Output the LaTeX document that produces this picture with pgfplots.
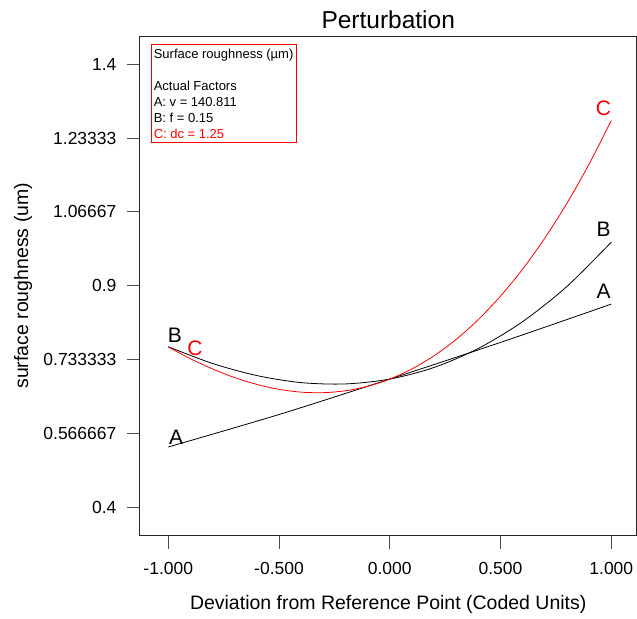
\documentclass[border=0pt]{standalone}
\usepackage{pgfplots}
\pgfplotsset{compat=1.18}
\usepackage{fontspec}
\setmainfont{Liberation Sans}
\begin{document}
\begin{tikzpicture}
\begin{axis}[
  scale only axis,
  width=497pt, height=500pt,
  xmin=-1.128, xmax=1.114,
  ymin=0.3362, ymax=1.4638,
  axis line style={line width=0.9pt, black!85},
  tick align=outside,
  xtick pos=bottom, ytick pos=left,
  major tick length=13pt,
  tick style={line width=0.9pt, black!70},
  xtick={-1,-0.5,0,0.5,1},
  xticklabels={-1.000,-0.500,0.000,0.500,1.000},
  ytick={0.4,0.566667,0.733333,0.9,1.066667,1.233333,1.4},
  yticklabels={0.4,0.566667,0.733333,0.9,1.06667,1.23333,1.4},
  /pgf/number format/assume math mode=true,
  ticklabel style={font=\fontsize{17.5}{20}\selectfont},
  yticklabel style={xshift=-7pt},
  xticklabel style={yshift=-10pt},
  xlabel={Deviation from Reference Point (Coded Units)},
  ylabel={surface roughness (um)},
  every axis x label/.style={at={(axis description cs:0.5,-0.138)}, anchor=center,
     font=\fontsize{19.5}{22}\selectfont},
  every axis y label/.style={at={(axis description cs:-0.2354,0.5)}, anchor=center, rotate=90,
     font=\fontsize{19.5}{22}\selectfont},
  title={Perturbation},
  every axis title/.style={at={(axis description cs:0.5,1.032)}, anchor=center,
     font=\fontsize{24.5}{27}\selectfont},
  clip=false,
]
\addplot[black, line width=0.8pt, smooth] coordinates {
  (-1,0.5362) (-0.5,0.6095) (0,0.6895) (0.5,0.7722) (1,0.8587)};
\addplot[black, line width=0.8pt, smooth] coordinates {
  (-1,0.7625) (-0.8,0.7247) (-0.6,0.6974) (-0.4,0.6815) (-0.2,0.6785)
  (0,0.6895) (0.2,0.7157) (0.4,0.7587) (0.6,0.8192) (0.8,0.8987) (1,0.9985)};
\addplot[red, line width=0.8pt, smooth] coordinates {
  (-1,0.762) (-0.9,0.7355) (-0.8,0.7123) (-0.7,0.6928) (-0.6,0.6774)
  (-0.5,0.6663) (-0.4,0.6600) (-0.3,0.6588) (-0.2,0.6631) (-0.1,0.6732)
  (0,0.6895) (0.1,0.7124) (0.2,0.7422) (0.3,0.7792) (0.4,0.824)
  (0.5,0.8767) (0.6,0.9378) (0.7,1.0076) (0.8,1.0865) (0.9,1.1749) (1,1.273)};
\begin{scope}[every node/.style={font=\fontsize{21}{24}\selectfont, inner sep=0pt}]
\node at (axis cs:-0.965,0.559) {A};
\node at (axis cs:-0.97,0.789) {B};
\node[red] at (axis cs:-0.88,0.760) {C};
\node at (axis cs:0.965,0.8865) {A};
\node at (axis cs:0.965,1.0286) {B};
\node[red] at (axis cs:0.965,1.301) {C};
\end{scope}
\node[draw=red, line width=0.8pt, anchor=north west, align=left,
      font=\fontsize{13}{16}\selectfont, inner xsep=2.5pt, inner ysep=4.5pt]
  at ([xshift=11pt,yshift=-8pt]rel axis cs:0,1)
  {Surface roughness (µm)\\[16pt]Actual Factors\\A: v = 140.811\\B: f = 0.15\\\textcolor{red}{C: dc = 1.25}};
\path (axis description cs:-0.2817,1.072) rectangle (axis description cs:1,-0.166);
\end{axis}
\end{tikzpicture}
\end{document}
